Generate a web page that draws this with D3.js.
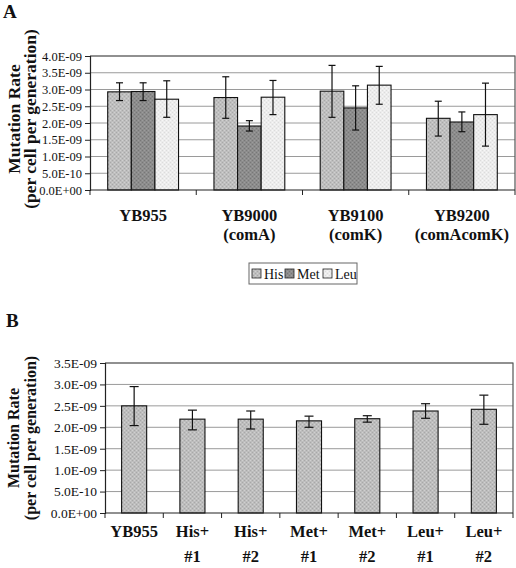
<!DOCTYPE html>
<html>
<head>
<meta charset="utf-8">
<script src="https://cdn.jsdelivr.net/npm/d3@7"></script>
<style>
  html, body { margin: 0; padding: 0; background: #fff; }
  svg { display: block; }
  svg text { font-family: "Liberation Serif", "DejaVu Serif", serif !important; fill: #111; }
</style>
</head>
<body>
<script>
// ---------- Data ----------
const strainsA = ["YB955", "YB9000|(comA)", "YB9100|(comK)", "YB9200|(comAcomK)"];
const seriesA = ["His", "Met", "Leu"];
const hisA = [2.93e-9, 2.76e-9, 2.95e-9, 2.14e-9];
const metA = [2.94e-9, 1.91e-9, 2.45e-9, 2.03e-9];
const leuA = [2.71e-9, 2.77e-9, 3.13e-9, 2.25e-9];
const hisErrLoA = [2.67e-9, 2.14e-9, 2.17e-9, 1.61e-9];
const hisErrHiA = [3.20e-9, 3.38e-9, 3.72e-9, 2.65e-9];
const metErrLoA = [2.67e-9, 1.76e-9, 1.79e-9, 1.74e-9];
const metErrHiA = [3.20e-9, 2.07e-9, 3.11e-9, 2.33e-9];
const leuErrLoA = [2.17e-9, 2.25e-9, 2.56e-9, 1.31e-9];
const leuErrHiA = [3.26e-9, 3.27e-9, 3.69e-9, 3.19e-9];
const ticksA = [0, 5e-10, 1e-9, 1.5e-9, 2e-9, 2.5e-9, 3e-9, 3.5e-9, 4e-9];

const strainsB = ["YB955", "His+|#1", "His+|#2", "Met+|#1", "Met+|#2", "Leu+|#1", "Leu+|#2"];
const valuesB = [2.50e-9, 2.19e-9, 2.19e-9, 2.15e-9, 2.20e-9, 2.38e-9, 2.42e-9];
const errLoB  = [2.04e-9, 1.94e-9, 1.96e-9, 2.00e-9, 2.12e-9, 2.21e-9, 2.07e-9];
const errHiB  = [2.95e-9, 2.40e-9, 2.38e-9, 2.26e-9, 2.27e-9, 2.55e-9, 2.75e-9];
const ticksB = [0, 5e-10, 1e-9, 1.5e-9, 2e-9, 2.5e-9, 3e-9, 3.5e-9];

// ---------- Helpers ----------
const FONT = '"Liberation Serif", "DejaVu Serif", serif';
function sci(d) {
  if (d === 0) return "0.0E+00";
  const s = d3.format(".1e")(d);
  const [m, e] = s.split("e");
  const sign = e[0] === "-" ? "-" : "+";
  const digits = e.replace(/^[-+]/, "").padStart(2, "0");
  return m + "E" + sign + digits;
}

const W = 516, H = 568;
const svg = d3.select("body").append("svg").attr("width", W).attr("height", H)
  .attr("font-family", FONT);
const defs = svg.append("defs");

function stipple(id, base, dot, dot2) {
  const p = defs.append("pattern").attr("id", id).attr("patternUnits", "userSpaceOnUse")
    .attr("width", 4).attr("height", 4);
  p.append("rect").attr("width", 4).attr("height", 4).attr("fill", base);
  p.append("rect").attr("x", 0).attr("y", 0).attr("width", 1).attr("height", 1).attr("fill", dot);
  p.append("rect").attr("x", 2).attr("y", 2).attr("width", 1).attr("height", 1).attr("fill", dot);
  p.append("rect").attr("x", 2).attr("y", 0).attr("width", 1).attr("height", 1).attr("fill", dot2);
  p.append("rect").attr("x", 0).attr("y", 2).attr("width", 1).attr("height", 1).attr("fill", dot2);
  return `url(#${id})`;
}
const fillHis = stipple("pHis", "#bebebe", "#a8a8a8", "#d0d0d0");
const fillMet = stipple("pMet", "#8c8c8c", "#777", "#9c9c9c");
const fillLeu = stipple("pLeu", "#ececec", "#dcdcdc", "#f7f7f7");
const fillB   = stipple("pB", "#bdbdbd", "#a8a8a8", "#d0d0d0");

function drawFrame(g, x0, x1, y, ticks, tickFont) {
  g.append("g").selectAll("line").data(ticks.filter(t => t > 0)).join("line")
    .attr("x1", x0).attr("x2", x1)
    .attr("y1", d => y(d)).attr("y2", d => y(d))
    .attr("stroke", "#9a9a9a").attr("stroke-width", 1);
  const top = y(ticks[ticks.length - 1]);
  g.append("path").attr("d", `M${x0},${top}H${x1}V${y(0)}`)
    .attr("fill", "none").attr("stroke", "#555").attr("stroke-width", 1.2);
  const ya = g.append("g").attr("transform", `translate(${x0},0)`)
    .call(d3.axisLeft(y).tickValues(ticks).tickFormat(sci).tickSize(5).tickPadding(3));
  ya.attr("font-family", FONT);
  ya.select(".domain").attr("stroke", "#222").attr("stroke-width", 1.2);
  ya.selectAll(".tick line").attr("stroke", "#222");
  ya.selectAll("text").attr("font-family", FONT)
    .attr("font-size", tickFont).attr("fill", "#222");
}

function bottomAxis(g, xBand, y0, cats, labelFont, labelY, lineGap) {
  const [r0, r1] = xBand.range();
  g.append("line").attr("x1", r0).attr("x2", r1).attr("y1", y0).attr("y2", y0)
    .attr("stroke", "#222").attr("stroke-width", 1.2);
  const step = xBand.step();
  const bounds = d3.range(cats.length + 1).map(i => r0 + i * step);
  g.append("g").selectAll("line").data(bounds).join("line")
    .attr("x1", d => d).attr("x2", d => d).attr("y1", y0).attr("y2", y0 + 5)
    .attr("stroke", "#222");
  const lab = g.append("g").selectAll("text").data(cats).join("text")
    .attr("text-anchor", "middle").attr("font-family", FONT)
    .attr("font-weight", "bold").attr("font-size", labelFont)
    .attr("x", d => xBand(d) + xBand.bandwidth() / 2)
    .attr("y", labelY);
  lab.each(function(d) {
    const parts = d.split("|");
    const t = d3.select(this);
    parts.forEach((p, i) => {
      t.append("tspan").attr("x", t.attr("x")).attr("dy", i === 0 ? 0 : lineGap).text(p);
    });
  });
}

function errorBars(g, xs, lo, hi, y, cap) {
  const eg = g.append("g").attr("stroke", "#111").attr("stroke-width", 1.2);
  xs.forEach((x, i) => {
    eg.append("line").attr("x1", x).attr("x2", x).attr("y1", y(lo[i])).attr("y2", y(hi[i]));
    eg.append("line").attr("x1", x - cap).attr("x2", x + cap).attr("y1", y(lo[i])).attr("y2", y(lo[i]));
    eg.append("line").attr("x1", x - cap).attr("x2", x + cap).attr("y1", y(hi[i])).attr("y2", y(hi[i]));
  });
}

function yTitle(g, cx, cy, size, gap) {
  const t = g.append("text").attr("transform", `translate(${cx},${cy}) rotate(-90)`)
    .attr("text-anchor", "middle").attr("font-weight", "bold").attr("font-size", size)
    .attr("font-family", FONT);
  t.append("tspan").attr("x", 0).attr("y", 0).text("Mutation Rate");
  t.append("tspan").attr("x", 0).attr("y", gap).text("(per cell per generation)");
}

// ---------- Panel A ----------
{
  const g = svg.append("g");
  const x0 = 90, x1 = 515, yTop = 56, yBot = 190;
  const y = d3.scaleLinear().domain([0, 4e-9]).range([yBot, yTop]);
  const xBand = d3.scaleBand().domain(strainsA).range([x0, x1]).padding(0);
  const bw = xBand.bandwidth();
  const inner = d3.scaleBand().domain(seriesA).range([bw * 0.75 / 4.5, bw - bw * 0.75 / 4.5]).padding(0);

  drawFrame(g, x0, x1, y, ticksA, 12.5);

  const seriesVals = { His: hisA, Met: metA, Leu: leuA };
  const seriesLo = { His: hisErrLoA, Met: metErrLoA, Leu: leuErrLoA };
  const seriesHi = { His: hisErrHiA, Met: metErrHiA, Leu: leuErrHiA };
  const fills = { His: fillHis, Met: fillMet, Leu: fillLeu };

  seriesA.forEach(s => {
    g.append("g").selectAll("rect").data(strainsA).join("rect")
      .attr("x", d => xBand(d) + inner(s))
      .attr("width", inner.bandwidth())
      .attr("y", (d, i) => y(seriesVals[s][i]))
      .attr("height", (d, i) => y(0) - y(seriesVals[s][i]))
      .attr("fill", fills[s]).attr("stroke", "#111").attr("stroke-width", 1.1);
  });
  seriesA.forEach(s => {
    const xs = strainsA.map(d => xBand(d) + inner(s) + inner.bandwidth() / 2);
    errorBars(g, xs, seriesLo[s], seriesHi[s], y, 3.5);
  });

  bottomAxis(g, xBand, yBot, strainsA, 16.5, 221, 19);

  const lg = g.append("g").attr("transform", "translate(249,263)");
  lg.append("rect").attr("width", 108).attr("height", 21).attr("fill", "#fff")
    .attr("stroke", "#666").attr("stroke-width", 1);
  const legX = [3, 36, 74];
  seriesA.forEach((s, i) => {
    lg.append("rect").attr("x", legX[i]).attr("y", 6).attr("width", 9).attr("height", 9)
      .attr("fill", fills[s]).attr("stroke", "#222").attr("stroke-width", 0.8);
    lg.append("text").attr("x", legX[i] + 12).attr("y", 15.5).attr("font-size", 14)
      .attr("font-family", FONT).text(s);
  });

  yTitle(g, 20, 119, 17.5, 16);
  g.append("text").attr("x", 3).attr("y", 18).attr("font-size", 19).attr("font-weight", "bold")
    .attr("font-family", FONT).text("A");
}

// ---------- Panel B ----------
{
  const g = svg.append("g");
  const x0 = 105, x1 = 513, yTop = 363, yBot = 513;
  const y = d3.scaleLinear().domain([0, 3.5e-9]).range([yBot, yTop]);
  const xBand = d3.scaleBand().domain(strainsB).range([x0, x1]).paddingInner(0.57).paddingOuter(0.285);

  drawFrame(g, x0, x1, y, ticksB, 13.5);

  g.append("g").selectAll("rect").data(strainsB).join("rect")
    .attr("x", d => xBand(d)).attr("width", xBand.bandwidth())
    .attr("y", (d, i) => y(valuesB[i]))
    .attr("height", (d, i) => y(0) - y(valuesB[i]))
    .attr("fill", fillB).attr("stroke", "#111").attr("stroke-width", 1.1);

  const xs = strainsB.map(d => xBand(d) + xBand.bandwidth() / 2);
  errorBars(g, xs, errLoB, errHiB, y, 4.5);

  const xFull = d3.scaleBand().domain(strainsB).range([x0, x1]).padding(0);
  bottomAxis(g, xFull, yBot, strainsB, 16.5, 537, 25);

  yTitle(g, 19, 438, 16, 17);
  g.append("text").attr("x", 6).attr("y", 327).attr("font-size", 19).attr("font-weight", "bold")
    .attr("font-family", FONT).text("B");
}
</script>
</body>
</html>
